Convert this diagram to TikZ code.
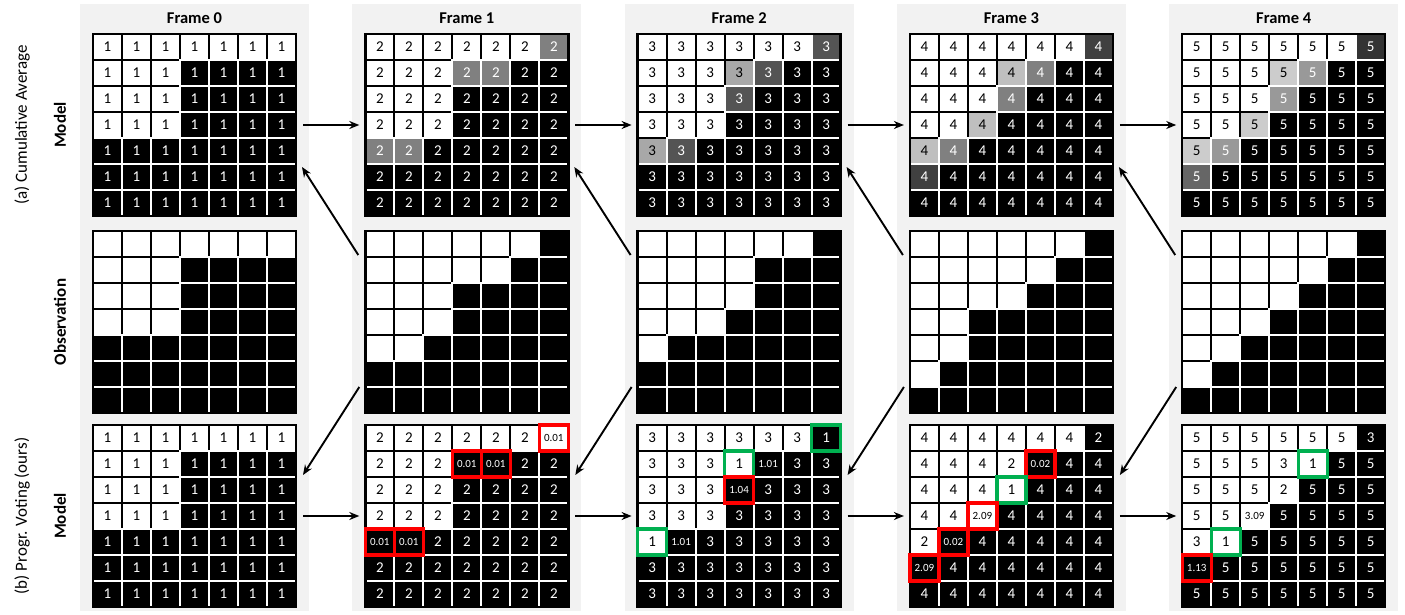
\documentclass[tikz,border=0pt]{standalone}
\usepackage{fontspec}
\setmainfont{Carlito}
\usetikzlibrary{arrows.meta, positioning, calc}
\definecolor{panelbg}{HTML}{F2F2F2}
\definecolor{votered}{HTML}{FF0000}
\definecolor{votegreen}{HTML}{00B050}

% white cells per row of each observation
\def\obsA{{7,3,3,3,0,0,0}}
\def\obsB{{6,5,3,3,2,0,0}}
\def\obsC{{6,4,4,3,1,0,0}}
\def\obsD{{6,5,4,2,2,1,0}}
\def\obsE{{6,5,4,3,2,1,0}}
% white cells per row of the voting model
\def\voteA{{7,3,3,3,0,0,0}}
\def\voteB{{7,3,3,3,0,0,0}}
\def\voteC{{6,4,3,3,1,0,0}}
\def\voteD{{6,4,4,3,1,0,0}}
\def\voteE{{6,5,4,3,2,0,0}}

\newcommand\dec[1]{{\fontsize{11}{11}\selectfont #1}}
\newcommand\setvote[4]{\expandafter\def\csname vote-#1-#2-#3\endcsname{#4}}
% votes that differ from the frame count
\setvote{1}{0}{6}{\dec{0.01}}\setvote{1}{1}{3}{\dec{0.01}}\setvote{1}{1}{4}{\dec{0.01}}
\setvote{1}{4}{0}{\dec{0.01}}\setvote{1}{4}{1}{\dec{0.01}}
\setvote{2}{0}{6}{1}\setvote{2}{1}{3}{1}\setvote{2}{1}{4}{\dec{1.01}}
\setvote{2}{2}{3}{\dec{1.04}}\setvote{2}{4}{0}{1}\setvote{2}{4}{1}{\dec{1.01}}
\setvote{3}{0}{6}{2}\setvote{3}{1}{3}{2}\setvote{3}{1}{4}{\dec{0.02}}
\setvote{3}{2}{3}{1}\setvote{3}{3}{2}{\dec{2.09}}\setvote{3}{4}{0}{2}
\setvote{3}{4}{1}{\dec{0.02}}\setvote{3}{5}{0}{\dec{2.09}}
\setvote{4}{0}{6}{3}\setvote{4}{1}{3}{3}\setvote{4}{1}{4}{1}
\setvote{4}{2}{3}{2}\setvote{4}{3}{2}{\dec{3.09}}\setvote{4}{4}{0}{3}
\setvote{4}{4}{1}{1}\setvote{4}{5}{0}{\dec{1.13}}

\begin{document}
\begin{tikzpicture}[
        x=1pt, y=-1pt,
        font=\fontsize{15}{15}\selectfont,
        panel/.style={
            fill=panelbg,
            minimum width=229pt,
            minimum height=607pt,
            inner sep=0pt, outer sep=0pt
        },
        gridbox/.style={
            minimum width=203pt,
            minimum height=182pt,
            inner sep=0pt, outer sep=0pt
        },
        gridframe/.style={draw=black, line width=2.5pt},
        cell/.style={
            minimum width=29pt,
            minimum height=26pt,
            inner sep=0pt, outer sep=0pt,
            line width=2pt
        },
        title/.style={font=\fontsize{16.5}{18}\selectfont\bfseries},
        rowlab/.style={font=\fontsize{17}{18}\selectfont, rotate=90},
        rowhead/.style={font=\fontsize{17}{18}\selectfont\bfseries, rotate=90},
        hlbox/.style={line width=3.2pt},
        flow/.style={-{Stealth[length=10pt, width=8pt]}, line width=1.9pt}
    ]

    \fill[white] (0,0) rectangle (1405,615);
    \useasboundingbox (0,0) rectangle (1405,615);

    % Panels, titles and grid places
    \foreach \k in {0,...,4} {
        \pgfmathsetmacro\gx{93+272.3*\k}
        \node[panel] (pan\k) at (\gx+101.5, 307.5) {};
        \node[title] (ttl\k) at (\gx+101.5, 18) {Frame \k};
        \node[gridbox] (top\k) at (\gx+101.5, 125) {};
        \node[gridbox] (obs\k) at (\gx+101.5, 322) {};
        \node[gridbox] (bot\k) at (\gx+101.5, 516) {};
    }

    % Row labels
    \node[rowlab] (labA) at (22, 125) {(a) Cumulative Average};
    \node[rowhead] (modA) at (60, 125) {Model};
    \node[rowhead] (obsL) at (60, 322) {Observation};
    \node[rowlab] (labB) at (22, 516) {(b) Progr. Voting (ours)};
    \node[rowhead] (modB) at (60, 516) {Model};

    % (a) Cumulative average model
    \foreach \k in {0,...,4} {
        \foreach \row in {0,...,6} {
            \foreach \col in {0,...,6} {
                \pgfmathtruncatemacro\cnt{(\col<\obsA[\row])+(\k>0)*(\col<\obsB[\row])+(\k>1)*(\col<\obsC[\row])+(\k>2)*(\col<\obsD[\row])+(\k>3)*(\col<\obsE[\row])}
                \pgfmathtruncatemacro\lvl{100*\cnt/(\k+1)}
                \pgfmathtruncatemacro\val{\k+1}
                \ifnum\lvl>62 \def\ink{black}\else\def\ink{white}\fi
                \node[cell, fill=white!\lvl!black, draw=\ink, text=\ink] (tc-\k-\row-\col)
                    at ([shift={(\col*29+14.5, \row*26+13)}]top\k.north west) {\val};
            }
        }
        \draw[gridframe] (top\k.north west) rectangle (top\k.south east);
    }

    % Observations
    \foreach \k in {0,...,4} {
        \foreach \row in {0,...,6} {
            \pgfmathtruncatemacro\wc{(\k==0)*\obsA[\row]+(\k==1)*\obsB[\row]+(\k==2)*\obsC[\row]+(\k==3)*\obsD[\row]+(\k==4)*\obsE[\row]}
            \foreach \col in {0,...,6} {
                \ifnum\col<\wc \def\ink{black}\def\paint{white}\else\def\ink{white}\def\paint{black}\fi
                \node[cell, fill=\paint, draw=\ink] (oc-\k-\row-\col)
                    at ([shift={(\col*29+14.5, \row*26+13)}]obs\k.north west) {};
            }
        }
        \draw[gridframe] (obs\k.north west) rectangle (obs\k.south east);
    }

    % (b) Progressive voting model
    \foreach \k in {0,...,4} {
        \foreach \row in {0,...,6} {
            \pgfmathtruncatemacro\wc{(\k==0)*\voteA[\row]+(\k==1)*\voteB[\row]+(\k==2)*\voteC[\row]+(\k==3)*\voteD[\row]+(\k==4)*\voteE[\row]}
            \foreach \col in {0,...,6} {
                \ifnum\col<\wc \def\ink{black}\def\paint{white}\else\def\ink{white}\def\paint{black}\fi
                \ifcsname vote-\k-\row-\col\endcsname
                    \def\val{\csname vote-\k-\row-\col\endcsname}
                \else
                    \pgfmathtruncatemacro\val{\k+1}
                \fi
                \node[cell, fill=\paint, draw=\ink, text=\ink] (bc-\k-\row-\col)
                    at ([shift={(\col*29+14.5, \row*26+13)}]bot\k.north west) {\val};
            }
        }
        \draw[gridframe] (bot\k.north west) rectangle (bot\k.south east);
    }

    % Changed votes
    \foreach \k/\row/\col/\hl in {1/0/6/votered, 1/1/3/votered, 1/1/4/votered, 1/4/0/votered,
        1/4/1/votered, 2/0/6/votegreen, 2/1/3/votegreen, 2/2/3/votered, 2/4/0/votegreen,
        3/1/4/votered, 3/2/3/votegreen, 3/3/2/votered, 3/4/1/votered, 3/5/0/votered,
        4/1/4/votegreen, 4/4/1/votegreen, 4/5/0/votered} {
        \draw[hlbox, draw=\hl] (bc-\k-\row-\col.north west) rectangle (bc-\k-\row-\col.south east);
    }

    % Arrows between frames
    \foreach \k [evaluate=\k as \j using int(\k+1)] in {0,...,3} {
        \draw[flow, shorten <=7pt, shorten >=6pt] (top\k.east) -- (top\j.west);
        \draw[flow] ([shift={(-7,-67)}]obs\j.west) -- ([shift={(6,42)}]top\k.east);
        \draw[flow] ([shift={(-6,65)}]obs\j.west) -- ([shift={(7,-41)}]bot\k.east);
        \draw[flow, shorten <=7pt, shorten >=6pt] (bot\k.east) -- (bot\j.west);
    }

\end{tikzpicture}
\end{document}
